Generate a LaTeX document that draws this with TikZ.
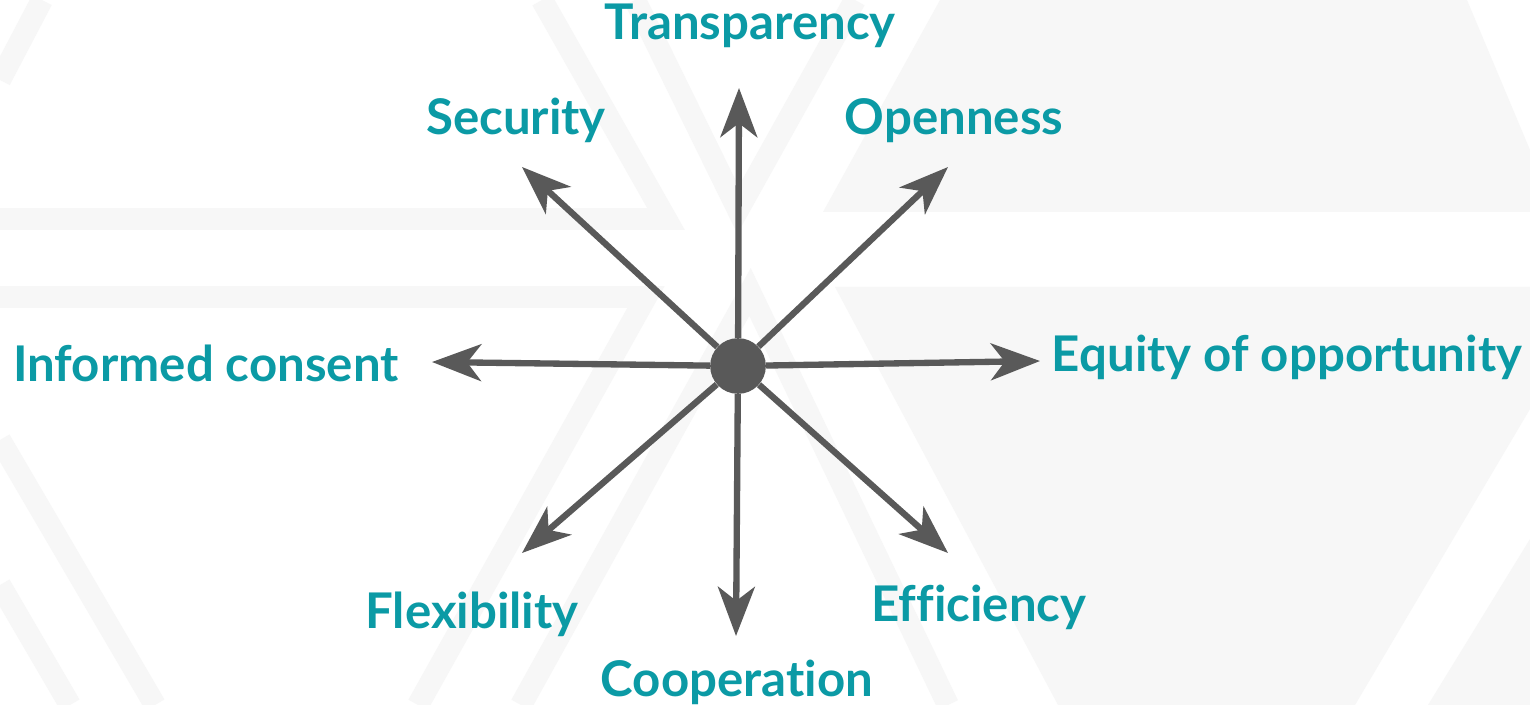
\documentclass[tikz,border=0pt]{standalone}
\usepackage{fontspec}
\setmainfont{Lato}[Ligatures=NoCommon]
\usetikzlibrary{arrows.meta}

\definecolor{tealtext}{HTML}{0B9AA5}
\definecolor{arrowgray}{HTML}{595959}
\definecolor{bgshade}{HTML}{F7F7F7}

\begin{document}
\begin{tikzpicture}[
  x=0.02cm, y=-0.02cm,
  value/.style = {font=\fontsize{28}{32}\selectfont\bfseries, text=tealtext, anchor=base, inner sep=0pt},
  arrow/.style = {line width=3.6pt, draw=arrowgray, -{Stealth[length=28pt, width=21pt, inset=8pt]}},
  band/.style  = {line width=12.5pt, draw=bgshade},
  hubdot/.style = {circle, fill=arrowgray, minimum size=31.7pt, inner sep=0pt}
]

  % canvas
  \useasboundingbox[fill=white] (0,0) rectangle (1530,705);

  % faint background pattern
  \fill[bgshade] (940,0) -- (1467,0) -- (1530,150) -- (1530,212) -- (823,212) -- cycle;
  \fill[bgshade] (835,287) -- (1530,287) -- (1530,409) -- (1355,705) -- (1058,705) -- cycle;
  \fill[bgshade] (1530,539) -- (1530,705) -- (1428,705) -- cycle;
  \draw[band] (0,219) -- (666,219) -- (542,0);
  \draw[band] (635,0) -- (738,210) -- (855,0);
  \draw[band] (42,0) -- (0,80);
  \draw[band] (0,297) -- (646,297) -- (418,705);
  \draw[band] (521,705) -- (750,292) -- (948,705);
  \draw[band] (0,440) -- (155,705);
  \draw[band] (0,585) -- (70,705);

  % hub
  \node[hubdot] (hub) at (738,366) {};

  % arrow tips
  \coordinate (tipN)  at (739,88);
  \coordinate (tipNW) at (522,167);
  \coordinate (tipNE) at (948,167);
  \coordinate (tipW)  at (432,362);
  \coordinate (tipE)  at (1040,361);
  \coordinate (tipSW) at (522,553);
  \coordinate (tipS)  at (736,636);
  \coordinate (tipSE) at (948,553);

  \draw[arrow] (hub) -- (tipN);
  \draw[arrow] (hub) -- (tipNW);
  \draw[arrow] (hub) -- (tipNE);
  \draw[arrow] (hub) -- (tipW);
  \draw[arrow] (hub) -- (tipE);
  \draw[arrow] (hub) -- (tipSW);
  \draw[arrow] (hub) -- (tipS);
  \draw[arrow] (hub) -- (tipSE);

  % labels
  \node[value] (transparency) at (750,40)  {Transparency};
  \node[value] (security)     at (516,135) {Security};
  \node[value] (openness)     at (954,135) {Openness};
  \node[value] (consent)      at (206,381) {Informed consent};
  \node[value] (equity)       at (1287,372) {Equity of opportunity};
  \node[value] (flexibility)  at (472,628) {Flexibility};
  \node[value] (efficiency)   at (979,621) {Efficiency};
  \node[value] (cooperation)  at (737,696) {Cooperation};

\end{tikzpicture}
\end{document}
